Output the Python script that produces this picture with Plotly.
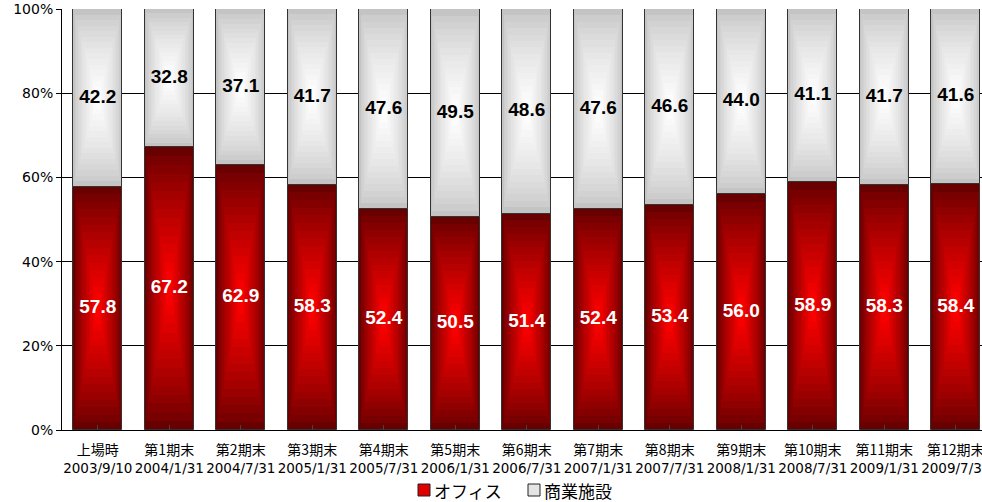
import plotly.graph_objects as go

categories = ["上場時", "第1期末", "第2期末", "第3期末", "第4期末", "第5期末", "第6期末",
              "第7期末", "第8期末", "第9期末", "第10期末", "第11期末", "第12期末"]
dates = ["2003/9/10", "2004/1/31", "2004/7/31", "2005/1/31", "2005/7/31", "2006/1/31",
         "2006/7/31", "2007/1/31", "2007/7/31", "2008/1/31", "2008/7/31", "2009/1/31",
         "2009/7/31"]
office = [57.8, 67.2, 62.9, 58.3, 52.4, 50.5, 51.4, 52.4, 53.4, 56.0, 58.9, 58.3, 58.4]
commercial = [42.2, 32.8, 37.1, 41.7, 47.6, 49.5, 48.6, 47.6, 46.6, 44.0, 41.1, 41.7, 41.6]
series_names = ["オフィス", "商業施設"]
y_ticks = [0, 20, 40, 60, 80, 100]

xs = list(range(len(categories)))
ticktext = ["%s<br><span style=\"font-family:'DejaVu Sans';font-size:13.5px\">%s</span>" % (c, d)
            for c, d in zip(categories, dates)]
BAR_W = 0.685
N = 16


def mix(c1, c2, t):
    return "rgb(%d,%d,%d)" % tuple(round(a + (b - a) * t) for a, b in zip(c1, c2))


fig = go.Figure()


def gradient_bars(bases, heights, edge, center, text_color, gamma):
    for k in range(N):
        s = 1 - k / N
        t = (k / (N - 1)) ** gamma
        b = [bs + h * (1 - s) / 2 for bs, h in zip(bases, heights)]
        hh = [h * s for h in heights]
        fig.add_trace(go.Bar(
            x=xs, y=hh, base=b, width=BAR_W * s,
            marker=dict(color=mix(edge, center, t),
                        line=dict(color="#333333", width=1) if k == 0 else dict(width=0)),
            showlegend=False, hoverinfo="skip",
        ))
    fig.add_trace(go.Scatter(
        x=xs, y=[bs + h / 2 for bs, h in zip(bases, heights)],
        text=["%.1f" % h for h in heights], mode="text", showlegend=False, hoverinfo="skip",
        textfont=dict(family="Liberation Sans, Arial, sans-serif", size=19,
                      color=text_color, weight="bold"),
    ))


gradient_bars([0] * len(office), office, (105, 0, 0), (255, 0, 0), "white", 0.85)
gradient_bars(office, commercial, (196, 196, 196), (255, 255, 255), "black", 0.7)

# legend drawn as paper-positioned swatches + labels
L, T, W, H = 62, 9, 920, 421


def px(x):
    return (x - L) / W


def py(y):
    return (T + H - y) / H


legend_items = [(418, "#e00000", series_names[0]), (528, "#e4e4e4", series_names[1])]
for x0, col, name in legend_items:
    fig.add_shape(type="rect", xref="paper", yref="paper",
                  x0=px(x0), x1=px(x0 + 12), y0=py(496), y1=py(484),
                  fillcolor=col, line=dict(color="#222222", width=1))
    fig.add_annotation(xref="paper", yref="paper", x=px(x0 + 14), y=py(490),
                       xanchor="left", yanchor="middle", showarrow=False, text=name,
                       font=dict(size=17, family="Noto Sans CJK JP", color="black"))

fig.update_layout(
    width=982, height=502,
    margin=dict(l=L, r=0, t=T, b=502 - T - H),
    barmode="overlay", bargap=0,
    plot_bgcolor="white", paper_bgcolor="white",
    font=dict(family="Noto Sans CJK JP, sans-serif", color="black"),
    showlegend=False,
    xaxis=dict(range=[-0.5, -0.5 + 920 / 71.5], tickvals=xs, ticktext=ticktext,
               showline=True, linecolor="black", linewidth=1, showgrid=False,
               ticks="inside", tickson="boundaries", ticklen=5, tickcolor="#444",
               tickfont=dict(size=14, family="Noto Sans CJK JP"), tickangle=0,
               ticklabelstandoff=7,
               zeroline=False, automargin=False, ticklabeloverflow="allow"),
    yaxis=dict(range=[0, 100], tickvals=y_ticks, ticktext=["%d%%" % v for v in y_ticks],
               showline=True, linecolor="black", linewidth=1, gridcolor="black", gridwidth=1,
               ticks="outside", ticklen=5, tickcolor="black",
               tickfont=dict(size=14, family="DejaVu Sans, Arial"), zeroline=False,
               automargin=False),
)

fig.write_html("out.html", config={"displayModeBar": False})

# remove the browser's default body margin so the figure sits at the page origin
with open("out.html", encoding="utf-8") as f:
    html = f.read()
html = html.replace("<body>", '<body style="margin:0;padding:0;overflow:hidden">', 1)
with open("out.html", "w", encoding="utf-8") as f:
    f.write(html)
